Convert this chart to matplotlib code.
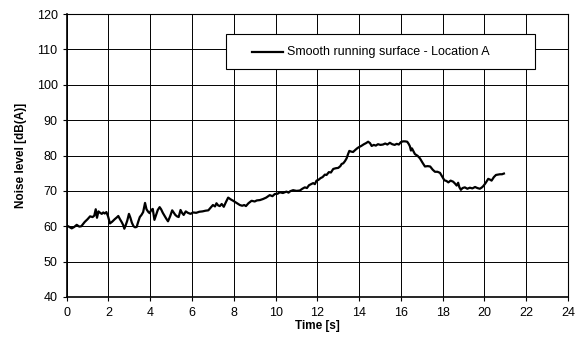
import matplotlib.pyplot as plt
from matplotlib.patches import Rectangle

plt.rcParams['font.family'] = ['Liberation Sans', 'DejaVu Sans']

time_s = [0.0, 0.1, 0.24, 0.36, 0.48, 0.6, 0.7, 0.86, 1.0, 1.12, 1.24, 1.32, 1.39, 1.45, 1.52,
          1.6, 1.68, 1.75, 1.82, 1.9, 1.98, 2.07, 2.18, 2.3, 2.4, 2.47, 2.55, 2.63, 2.7, 2.76,
          2.82, 2.9, 2.98, 3.05, 3.12, 3.2, 3.27, 3.35, 3.42, 3.5, 3.58, 3.66, 3.75, 3.82, 3.9,
          3.97, 4.05, 4.12, 4.2, 4.28, 4.36, 4.45, 4.52, 4.6, 4.68, 4.76, 4.85, 4.95, 5.05, 5.12,
          5.2, 5.28, 5.36, 5.45, 5.52, 5.6, 5.7, 5.8, 5.93, 6.05, 6.2, 6.35, 6.5, 6.65, 6.78,
          6.9, 7.0, 7.1, 7.17, 7.25, 7.33, 7.42, 7.52, 7.62, 7.73, 7.85, 7.97, 8.1, 8.2, 8.29,
          8.4, 8.5, 8.58, 8.7, 8.85, 9.0, 9.1, 9.25, 9.4, 9.55, 9.72, 9.85, 9.96, 10.1, 10.2,
          10.35, 10.52, 10.62, 10.7, 10.84, 11.0, 11.16, 11.28, 11.4, 11.5, 11.6, 11.7, 11.8, 11.88, 11.96,
          12.05, 12.15, 12.25, 12.36, 12.44, 12.55, 12.65, 12.76, 12.88, 13.0, 13.1, 13.16, 13.24, 13.32, 13.4,
          13.47, 13.53, 13.62, 13.71, 13.82, 13.92, 14.0, 14.1, 14.23, 14.33, 14.43, 14.52, 14.6, 14.7, 14.8,
          14.9, 15.02, 15.14, 15.25, 15.35, 15.47, 15.58, 15.7, 15.8, 15.9, 16.0, 16.1, 16.2, 16.3, 16.38,
          16.43, 16.48, 16.53, 16.6, 16.67, 16.8, 16.91, 17.03, 17.15, 17.28, 17.4, 17.52, 17.63, 17.75, 17.87,
          17.98, 18.08, 18.18, 18.27, 18.38, 18.5, 18.6, 18.67, 18.74, 18.8, 18.87, 18.95, 19.06, 19.18, 19.3,
          19.42, 19.55, 19.66, 19.78, 19.88, 19.95, 20.05, 20.18, 20.26, 20.34, 20.45, 20.55, 20.65, 20.74, 20.84,
          20.93]
noise_db = [60.2, 59.9, 59.4, 59.8, 60.4, 59.9, 60.0, 61.2, 62.0, 62.8, 62.6, 63.0, 64.8, 62.4, 64.2,
            63.8, 63.5, 63.9, 63.6, 64.0, 62.8, 60.8, 61.3, 62.0, 62.5, 62.9, 62.0, 61.2, 60.4, 59.3,
            60.2, 61.6, 63.5, 62.4, 61.0, 60.0, 59.7, 59.8, 61.2, 62.6, 63.2, 64.0, 66.6, 64.8, 64.1,
            63.7, 64.6, 64.9, 61.8, 63.2, 64.6, 65.4, 64.8, 63.8, 63.0, 62.2, 61.4, 62.8, 64.5, 63.9,
            63.2, 62.8, 62.6, 64.6, 63.8, 63.2, 64.2, 63.8, 63.5, 63.9, 63.8, 64.1, 64.2, 64.4, 64.5,
            65.3, 66.0, 65.6, 66.5, 65.9, 65.7, 66.3, 65.5, 66.8, 68.1, 67.6, 67.2, 66.7, 66.3, 66.0,
            65.8, 66.0, 65.7, 66.5, 67.2, 67.0, 67.3, 67.4, 67.7, 68.1, 68.8, 68.5, 69.1, 69.2, 69.6,
            69.4, 69.8, 69.5, 69.9, 70.2, 70.0, 70.1, 70.6, 71.0, 70.8, 71.6, 71.9, 72.2, 71.9, 72.9,
            73.1, 73.6, 73.9, 74.6, 74.5, 75.3, 75.2, 76.2, 76.4, 76.5, 77.0, 77.6, 77.8, 78.4, 79.2,
            80.4, 81.3, 81.1, 81.0, 81.6, 82.1, 82.4, 82.7, 83.2, 83.5, 83.9, 83.5, 82.7, 83.0, 82.8,
            83.2, 83.0, 83.1, 83.4, 83.1, 83.6, 83.2, 83.0, 83.3, 83.1, 83.8, 84.0, 84.0, 83.9, 83.2,
            82.6, 81.4, 82.0, 81.2, 80.4, 79.9, 79.2, 78.0, 76.9, 77.0, 76.9, 76.0, 75.4, 75.4, 75.1,
            74.0, 73.0, 72.8, 72.4, 72.9, 72.6, 72.0, 71.5, 72.3, 71.0, 70.3, 70.8, 71.0, 70.6, 70.9,
            70.7, 71.1, 70.8, 70.6, 71.0, 71.4, 72.2, 73.4, 73.2, 72.9, 73.9, 74.5, 74.6, 74.7, 74.7,
            74.9]
series_label = "Smooth running surface - Location A"
x_ticks = list(range(0, 25, 2))
y_ticks = list(range(40, 121, 10))

fig = plt.figure(figsize=(5.82, 3.42), dpi=100)
ax = fig.add_axes([0.1146, 0.1316, 0.8614, 0.8274])

ax.plot(time_s, noise_db, color='black', linewidth=1.6, zorder=3)

ax.set_xlim(0, 24)
ax.set_ylim(40, 120)
ax.set_xticks(x_ticks)
ax.set_yticks(y_ticks)
ax.grid(True, color='black', linewidth=0.7)
ax.tick_params(direction='out', length=3, width=0.8, labelsize=9, colors='black')
ax.tick_params(axis='x', pad=4)
for s in ax.spines.values():
    s.set_linewidth(0.8)
ax.spines['left'].set_linewidth(1.2)
ax.spines['bottom'].set_linewidth(1.2)

ax.set_xlabel("Time [s]", fontsize=8.5, fontweight='bold', labelpad=1)
ax.set_ylabel("Noise level [dB(A)]", fontsize=8.5, fontweight='bold', labelpad=7)

# legend box, drawn by hand so the padding matches
ax.add_patch(Rectangle((0.318, 0.806), 0.616, 0.123, transform=ax.transAxes,
                       facecolor='white', edgecolor='black', linewidth=0.8, zorder=5))
ax.plot([0.370, 0.431], [0.8675, 0.8675], transform=ax.transAxes,
        color='black', linewidth=1.6, zorder=6)
ax.text(0.439, 0.8675, series_label, transform=ax.transAxes, fontsize=9,
        va='center', ha='left', zorder=6)

fig.savefig("out.png", dpi=100)
